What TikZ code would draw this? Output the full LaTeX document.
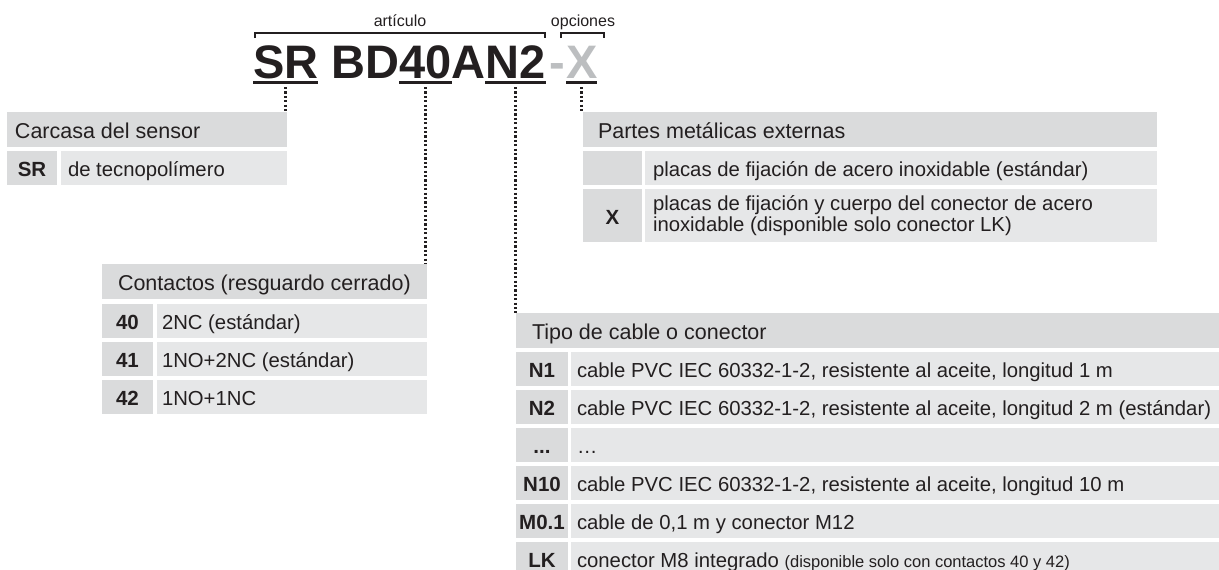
\documentclass[tikz,border=0pt]{standalone}
\usepackage{fontspec}
\setmainfont{Liberation Sans}
\definecolor{txt}{HTML}{231F20}
\definecolor{hdrgray}{HTML}{DADBDC}
\definecolor{cellgray}{HTML}{E6E7E8}
\definecolor{xgray}{HTML}{BCBEC0}
\newcommand{\cellbox}[2]{\makebox[#1][l]{#2}}
\begin{document}
\begin{tikzpicture}[x=1pt,y=-1pt,
  every node/.style={text=txt},
  cell/.style={anchor=north west, inner ysep=0pt, outer sep=0pt, font=\fontsize{20.3}{22}\selectfont},
  onel/.style={text height=19pt, text depth=2pt},
  hdr/.style={cell, onel, fill=hdrgray, font=\fontsize{21.5}{23}\selectfont},
  keyc/.style={cell, onel, fill=hdrgray, inner xsep=0pt, font=\fontsize{20.5}{22}\selectfont\bfseries},
  valc/.style={cell, onel, fill=cellgray},
  valtwo/.style={cell, fill=cellgray},
  title/.style={anchor=base west, inner sep=0pt, outer sep=0pt, font=\fontsize{47}{47}\selectfont\bfseries},
  uline/.style={line width=2.2pt, draw=txt},
  dotline/.style={line width=2.4pt, draw=txt, dash pattern=on 2.2pt off 2.2pt},
  brace/.style={line width=1.2pt, draw=txt},
  lbl/.style={anchor=base, inner sep=0pt, font=\fontsize{16}{18}\selectfont}
]
\useasboundingbox (0,0) rectangle (1219,570);

% ---- title ----
\node[title] (t1) at (253,78) {SR};
\node[title] (t2) at (t1.base east) {\ BD};
\node[title] (t3) at (t2.base east) {40};
\node[title] (t4) at (t3.base east) {A};
\node[title] (t5) at (t4.base east) {N2};
\node[title, text=xgray] (t6) at (549,78) {-};
\node[title, text=xgray] (t7) at (566,78) {X};

\foreach \n in {t1,t3,t5,t7}
  \draw[uline] ([yshift=-4.5pt]\n.base west) -- ([yshift=-4.5pt]\n.base east);

% brackets and labels
\coordinate (ba1) at (255,38);
\coordinate (ba2) at (545,38);
\coordinate (bo1) at (561,38);
\coordinate (bo2) at (604,38);
\draw[brace] (ba1) -- ++(0,-5) -| (ba2);
\draw[brace] (bo1) -- ++(0,-5) -| (bo2);
\node[lbl] (lart) at (400,26) {artículo};
\node[lbl] (lopc) at (583,26) {opciones};

% ---- Carcasa del sensor ----
\node[hdr, inner xsep=8pt, minimum height=35pt] (carh) at (7,112) {\cellbox{264pt}{Carcasa del sensor}};
\node[keyc, minimum width=50pt, minimum height=34pt] (cark) at (7,151) {SR};
\node[valc, inner xsep=7pt, minimum height=34pt] (carv) at (61,151) {\cellbox{212pt}{de tecnopolímero}};

% ---- Partes metálicas externas ----
\node[hdr, inner xsep=15pt, minimum height=35pt] (parh) at (583,112) {\cellbox{544pt}{Partes metálicas externas}};
\node[keyc, minimum width=59pt, minimum height=34pt] (park1) at (583,151) {};
\node[valc, inner xsep=8pt, minimum height=34pt] (parv1) at (645,151) {\cellbox{496pt}{placas de fijación de acero inoxidable (estándar)}};
\node[keyc, minimum width=59pt, minimum height=53pt] (park2) at (583,189) {X};
\node[valtwo, inner xsep=8pt, minimum height=53pt] (parv2) at (645,189)
  {\parbox{496pt}{\raggedright\baselineskip=21.5pt placas de fijación y cuerpo del conector de acero\\inoxidable (disponible solo conector LK)}};

% ---- Contactos ----
\node[hdr, inner xsep=16pt, minimum height=35pt] (conh) at (102,264) {\cellbox{293pt}{Contactos (resguardo cerrado)}};
\node[keyc, minimum width=51pt, minimum height=34pt] (conk1) at (102,304) {40};
\node[valc, inner xsep=5pt, minimum height=34pt] (conv1) at (157,304) {\cellbox{260pt}{2NC (estándar)}};
\node[keyc, minimum width=51pt, minimum height=34pt] (conk2) at (102,342) {41};
\node[valc, inner xsep=5pt, minimum height=34pt] (conv2) at (157,342) {\cellbox{260pt}{1NO+2NC (estándar)}};
\node[keyc, minimum width=51pt, minimum height=34pt] (conk3) at (102,380) {42};
\node[valc, inner xsep=5pt, minimum height=34pt] (conv3) at (157,380) {\cellbox{260pt}{1NO+1NC}};

% ---- Tipo de cable o conector ----
\node[hdr, inner xsep=16pt, minimum height=35pt] (tiph) at (516,313) {\cellbox{671pt}{Tipo de cable o conector}};
\node[keyc, minimum width=52pt, minimum height=34pt] (tipk1) at (516,352) {N1};
\node[valc, inner xsep=6pt, minimum height=34pt] (tipv1) at (571,352) {\cellbox{636pt}{cable PVC IEC 60332-1-2, resistente al aceite, longitud 1 m}};
\node[keyc, minimum width=52pt, minimum height=34pt] (tipk2) at (516,390) {N2};
\node[valc, inner xsep=6pt, minimum height=34pt] (tipv2) at (571,390) {\cellbox{636pt}{cable PVC IEC 60332-1-2, resistente al aceite, longitud 2 m (estándar)}};
\node[keyc, minimum width=52pt, minimum height=34pt] (tipk3) at (516,428) {...};
\node[valc, inner xsep=6pt, minimum height=34pt] (tipv3) at (571,428) {\cellbox{636pt}{…}};
\node[keyc, minimum width=52pt, minimum height=34pt] (tipk4) at (516,466) {N10};
\node[valc, inner xsep=6pt, minimum height=34pt] (tipv4) at (571,466) {\cellbox{636pt}{cable PVC IEC 60332-1-2, resistente al aceite, longitud 10 m}};
\node[keyc, minimum width=52pt, minimum height=34pt] (tipk5) at (516,504) {M0.1};
\node[valc, inner xsep=6pt, minimum height=34pt] (tipv5) at (571,504) {\cellbox{636pt}{cable de 0,1 m y conector M12}};
\node[keyc, minimum width=52pt, minimum height=34pt] (tipk6) at (516,542) {LK};
\node[valc, inner xsep=6pt, minimum height=34pt] (tipv6) at (571,542) {\cellbox{636pt}{conector M8 integrado {\fontsize{16.5}{18}\selectfont(disponible solo con contactos 40 y 42)}}};

% ---- dotted connectors ----
\coordinate (dSR) at ([yshift=-9pt]t1.base);
\coordinate (d40) at ([yshift=-9pt]t3.base);
\coordinate (dN2) at ([yshift=-9pt]t5.base);
\coordinate (dX)  at ([yshift=-9pt]t7.base);
\draw[dotline] (dSR) -- (dSR |- carh.north);
\draw[dotline] (d40) -- (d40 |- conh.north);
\draw[dotline] (dN2) -- (dN2 |- tiph.north);
\draw[dotline] (dX)  -- (dX |- parh.north);
\end{tikzpicture}
\end{document}
